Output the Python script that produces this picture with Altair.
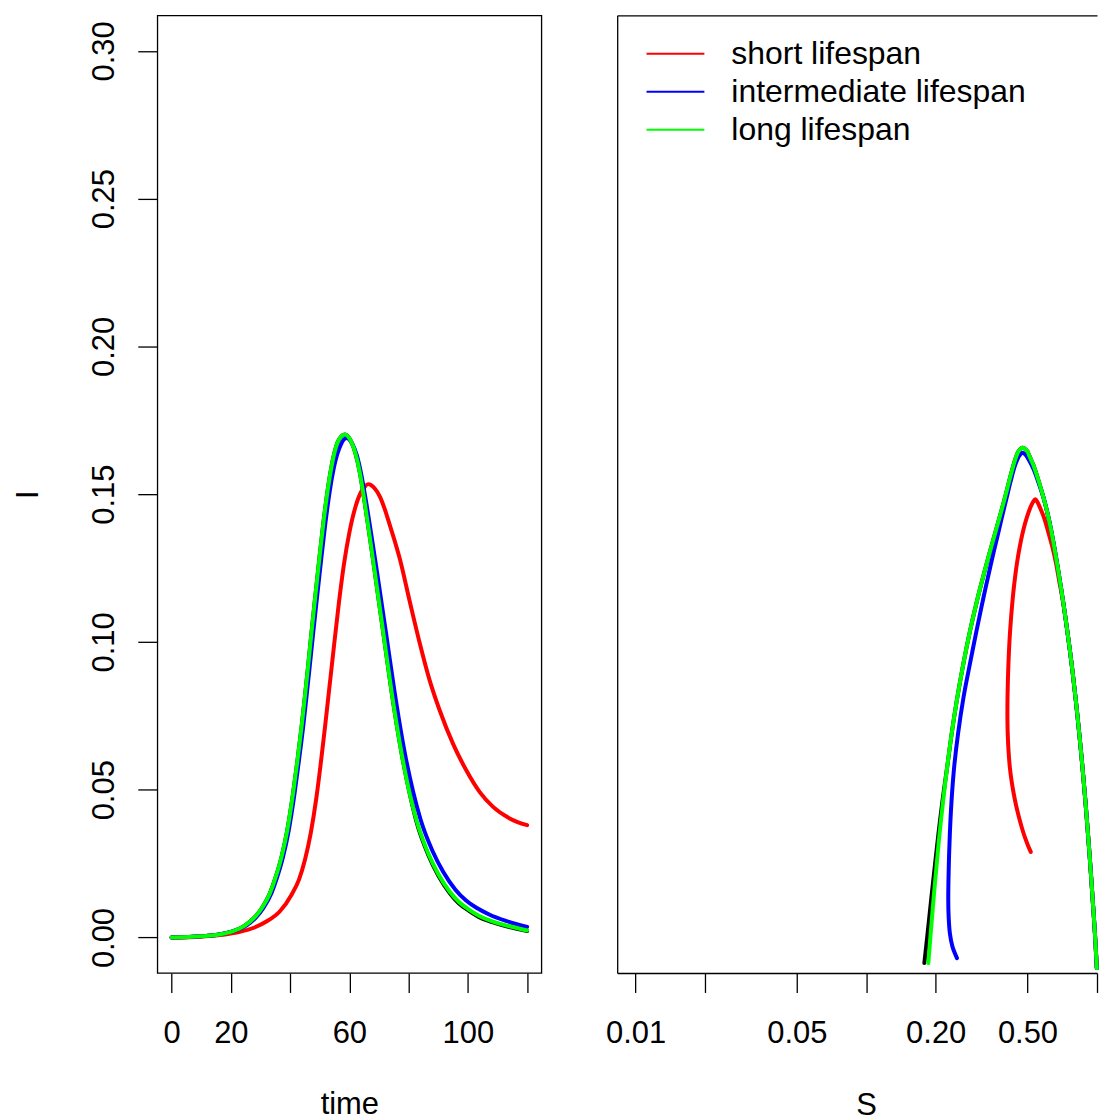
import altair as alt
import pandas as pd

# ---------------- left panel: I over time ----------------
short_time = [0, 10, 18, 23, 28, 32, 36.5, 40.5, 43, 45, 47, 48.9, 50.3, 51.7, 53, 54.3, 56.5, 58.1,
              60, 62, 64, 65.2, 66.3, 67.4, 68.5, 70.3, 72, 73.6, 75.3, 77, 80.4, 83.8, 87.1, 90.5,
              95, 99.5, 104, 108.5, 114.1, 120]
short_I = [0, 0.0003, 0.0010, 0.0019, 0.0034, 0.0054, 0.0088, 0.0145, 0.0196, 0.0262, 0.0355, 0.0475,
           0.0585, 0.0705, 0.0822, 0.0940, 0.1135, 0.1258, 0.1370, 0.1455, 0.1508, 0.1525, 0.1534,
           0.1530, 0.1520, 0.1492, 0.1448, 0.1397, 0.1342, 0.1282, 0.1136, 0.0994, 0.0870, 0.0768,
           0.0655, 0.0565, 0.0492, 0.0442, 0.0403, 0.0380]

mid_time = [0, 10, 15, 20, 25.2, 28.5, 31, 33.7, 35.5, 37.6, 39.5, 41.5, 43, 44.4, 45.5, 46.6, 47.7,
            48.8, 50.3, 51.7, 53.5, 55, 57, 59, 61, 62.5, 64, 65.8, 67.6, 69.4, 72.3, 75.2, 78.7,
            81.6, 84, 88.1, 91.7, 95.8, 99.2, 103.2, 107.2, 112.6, 120]
mid_I = [0, 0.0004, 0.00085, 0.0019, 0.0040, 0.0068, 0.0100, 0.015, 0.020, 0.0272, 0.036, 0.0487,
         0.060, 0.0712, 0.0812, 0.0915, 0.1022, 0.1125, 0.1262, 0.1385, 0.1518, 0.1600, 0.1665,
         0.1690, 0.1670, 0.1632, 0.1568, 0.1465, 0.1350, 0.1232, 0.1035, 0.0835, 0.0625, 0.0490,
         0.0400, 0.0292, 0.0222, 0.0162, 0.0127, 0.0099, 0.0078, 0.0057, 0.0036]

long_time = [0, 10, 15, 20, 24.7, 28, 30.5, 33.2, 35, 37.1, 39, 41, 42.5, 43.9, 45, 46.1, 47.2, 48.3,
             49.8, 51.2, 53, 54.5, 56.5, 58.5, 60.5, 62, 63.5, 65.2, 66.9, 68.6, 71.4, 74.2, 77.6,
             80.4, 82.7, 86.6, 90, 93.9, 97, 100.6, 104, 108.5, 114, 120]
long_I = [0, 0.0004, 0.00085, 0.0019, 0.0040, 0.0068, 0.0100, 0.015, 0.020, 0.0272, 0.036, 0.0487,
          0.060, 0.0715, 0.0815, 0.0920, 0.1030, 0.1135, 0.1275, 0.1400, 0.1535, 0.1620, 0.1685,
          0.1702, 0.1680, 0.1640, 0.1575, 0.1470, 0.1355, 0.1235, 0.1035, 0.0835, 0.0625, 0.0485,
          0.0395, 0.0285, 0.0215, 0.0155, 0.0120, 0.0093, 0.0072, 0.0054, 0.0038, 0.0024]

base_time = [0, 10, 15, 20, 24.7, 28, 30.5, 33.2, 35, 37.1, 39, 41, 42.5, 43.9, 45, 46.1, 47.2, 48.3,
             49.8, 51.2, 53, 54.5, 56.5, 58.5, 60.5, 62, 63.5, 65.2, 66.9, 68.6, 71.4, 74.2, 77.6,
             80.4, 82.7, 86.6, 90, 93.9, 97, 100.6, 104, 108.5, 114, 120]
base_I = [0, 0.0004, 0.00085, 0.0019, 0.0040, 0.0068, 0.0100, 0.015, 0.020, 0.0272, 0.036, 0.0487,
          0.060, 0.0715, 0.0815, 0.0920, 0.1030, 0.1135, 0.1275, 0.1400, 0.1535, 0.1620, 0.1685,
          0.1702, 0.1680, 0.1640, 0.1575, 0.1470, 0.1355, 0.1235, 0.1035, 0.0835, 0.0625, 0.0485,
          0.0390, 0.0280, 0.0210, 0.0150, 0.0115, 0.0089, 0.0068, 0.0051, 0.0035, 0.0022]

# ---------------- right panel: I against S ----------------
short_S = [0.999, 0.98028, 0.95903, 0.93741, 0.91437, 0.89101, 0.86564, 0.83849, 0.80741, 0.77670,
           0.74414, 0.70779, 0.68627, 0.66606, 0.64198, 0.61384, 0.58871, 0.56684, 0.55289, 0.54091,
           0.52763, 0.51414, 0.49654, 0.47857, 0.46217, 0.44946, 0.43972, 0.43190, 0.42044, 0.41339,
           0.40970, 0.40929, 0.41052, 0.41380, 0.41919, 0.42635, 0.43579, 0.44634, 0.45896, 0.47241,
           0.48670, 0.50147, 0.51671]
short_I_phase = [0.0, 0.01142, 0.02219, 0.03312, 0.04405, 0.05481, 0.06574, 0.07667, 0.08858,
                 0.09951, 0.11028, 0.12121, 0.12659, 0.13214, 0.13752, 0.14290, 0.14747, 0.15057,
                 0.15236, 0.15331, 0.15236, 0.15057, 0.14731, 0.14297, 0.13752, 0.13210, 0.12659,
                 0.12121, 0.11034, 0.09948, 0.08858, 0.08157, 0.07667, 0.07113, 0.06574, 0.06134,
                 0.05706, 0.05318, 0.04943, 0.04600, 0.04290, 0.04029, 0.03801]

mid_S = [0.999, 0.98028, 0.95903, 0.93741, 0.91437, 0.89101, 0.86564, 0.83849, 0.80741, 0.77670,
         0.74414, 0.70941, 0.67266, 0.63438, 0.61202, 0.58693, 0.55566, 0.53132, 0.50551, 0.49309,
         0.4752, 0.46217, 0.44323, 0.42254, 0.40603, 0.39017, 0.37494, 0.34690, 0.32226, 0.30056,
         0.28143, 0.26405, 0.24998, 0.24046, 0.23431, 0.23038, 0.22787, 0.22674, 0.22764, 0.23038,
         0.23642, 0.24728]
mid_I_phase = [0.0, 0.01142, 0.02219, 0.03312, 0.04405, 0.05481, 0.06574, 0.07667, 0.08858, 0.09951,
               0.11028, 0.12121, 0.13210, 0.14290, 0.14845, 0.15383, 0.15922, 0.16313, 0.16639,
               0.16770, 0.16852, 0.16770, 0.16476, 0.15922, 0.15383, 0.14845, 0.14290, 0.13210,
               0.12121, 0.11028, 0.09951, 0.08858, 0.07667, 0.06574, 0.05481, 0.04405, 0.03312,
               0.02219, 0.01664, 0.01142, 0.00701, 0.00326]

long_S = [0.999, 0.98028, 0.95903, 0.93741, 0.91437, 0.89101, 0.86564, 0.83849, 0.80741, 0.77670,
          0.74414, 0.70941, 0.67266, 0.63438, 0.61202, 0.58693, 0.55955, 0.52868, 0.50808, 0.49955,
          0.47523, 0.45712, 0.44900, 0.43579, 0.41628, 0.39922, 0.38173, 0.36391, 0.33138, 0.30418,
          0.28173, 0.26355, 0.24678, 0.23455, 0.22382, 0.21595, 0.20793, 0.20120, 0.19587, 0.19029,
          0.18579]
long_I_phase = [0.0, 0.01142, 0.02219, 0.03312, 0.04405, 0.05481, 0.06574, 0.07667, 0.08858,
                0.09951, 0.11028, 0.12121, 0.13210, 0.14290, 0.14845, 0.15383, 0.15922, 0.16476,
                0.16770, 0.16900, 0.17015, 0.16900, 0.16770, 0.16476, 0.15922, 0.15383, 0.14845,
                0.14290, 0.13181, 0.12104, 0.11028, 0.09951, 0.08744, 0.07667, 0.06525, 0.05546,
                0.04405, 0.03263, 0.02284, 0.01142, 0.00163]

base_S = [0.999, 0.98028, 0.95903, 0.93741, 0.91437, 0.89101, 0.86564, 0.83849, 0.80741, 0.77670,
          0.74414, 0.70941, 0.67266, 0.63438, 0.61202, 0.58693, 0.55955, 0.52868, 0.50808, 0.49955,
          0.47523, 0.45712, 0.44900, 0.43579, 0.41628, 0.39922, 0.38173, 0.36391, 0.33138, 0.30418,
          0.28173, 0.26355, 0.24678, 0.23455, 0.22382, 0.21466, 0.20566, 0.19782, 0.19143, 0.18450,
          0.17853]
base_I_phase = [0.0, 0.01142, 0.02219, 0.03312, 0.04405, 0.05481, 0.06574, 0.07667, 0.08858,
                0.09951, 0.11028, 0.12121, 0.13210, 0.14290, 0.14845, 0.15383, 0.15922, 0.16476,
                0.16770, 0.16900, 0.17015, 0.16900, 0.16770, 0.16476, 0.15922, 0.15383, 0.14845,
                0.14290, 0.13181, 0.12104, 0.11028, 0.09951, 0.08744, 0.07667, 0.06525, 0.05546,
                0.04405, 0.03263, 0.02284, 0.01142, 0.00163]

series_names = ["short lifespan", "intermediate lifespan", "long lifespan"]
series_colors = ["#FF0000", "#0000FF", "#00FF00"]

time_ticks = [0, 20, 40, 60, 80, 100, 120]
time_labelled = [0, 20, 60, 100]
I_ticks = [0.0, 0.05, 0.10, 0.15, 0.20, 0.25, 0.30]
S_ticks = [0.01, 0.02, 0.05, 0.1, 0.2, 0.5, 1]
S_labelled = [0.01, 0.05, 0.2, 0.5]

FONT = "Liberation Sans"
FS = 31
LEFT_W, RIGHT_W, PLOT_H = 385, 481, 960
PX_PER_DECADE = 231.2


def frame(xs, ys, name, xname):
    return pd.DataFrame({xname: xs, "I": ys, "series": name, "step": list(range(len(xs)))})


color_scale = alt.Scale(domain=series_names, range=series_colors)

text_style = dict(
    labelFont=FONT, labelFontSize=FS, labelColor="black",
    titleFont=FONT, titleFontSize=FS, titleFontWeight="normal", titleColor="black",
    tickColor="black", tickWidth=1.3, grid=False, labelOverlap=False, labelFlush=False,
)

time_axis = alt.Axis(
    values=time_ticks,
    labelExpr="indexof(" + str(time_labelled) + ", datum.value) >= 0 ? datum.label : ''",
    title="time", tickSize=19.5, labelPadding=26, titleY=140.5, titleBaseline="alphabetic",
    domain=False, **text_style,
)
I_axis = alt.Axis(
    values=I_ticks, format=".2f", title="I", tickSize=19.6, labelPadding=24.8,
    labelAngle=270, labelAlign="center", labelBaseline="alphabetic",
    titleAngle=270, titleBaseline="alphabetic", titleAlign="center", titleX=-120.5, titleY=480,
    domain=False, **text_style,
)
S_axis_bottom = alt.Axis(
    values=S_ticks,
    labelExpr="indexof(" + str(S_labelled) + ", datum.value) >= 0 ? format(datum.value, '.2f') : ''",
    title="S", tickSize=19.5, labelPadding=26, titleY=141.5, titleBaseline="alphabetic",
    titleX=249.6, domain=True, domainColor="black", domainWidth=1.3, **text_style,
)
S_axis_top = alt.Axis(orient="top", labels=False, ticks=False, title="", grid=False,
                      domain=True, domainColor="black", domainWidth=1.3)
I_axis_frame = alt.Axis(labels=False, ticks=False, title="", grid=False,
                        domain=True, domainColor="black", domainWidth=1.3)

time_scale = alt.Scale(domain=[-4.8, 124.8], nice=False, zero=False)
I_left_scale = alt.Scale(domain=[-0.012, 0.312], nice=False, zero=False)
S_scale = alt.Scale(type="log", nice=False,
                    domain=[10 ** -2.08, 10 ** (-2.08 + RIGHT_W / PX_PER_DECADE)])
I_right_scale = alt.Scale(domain=[-0.0016, 0.3116], nice=False, zero=False)

line_style = dict(strokeWidth=4, strokeCap="round", strokeJoin="round")

legend = alt.Legend(
    title=None, orient="none", legendX=28.4, legendY=23.4, direction="vertical",
    symbolType="stroke", symbolSize=3364, symbolStrokeWidth=2, symbolOffset=0,
    labelFont=FONT, labelFontSize=32, labelColor="black", labelOffset=26, labelLimit=0,
    clipHeight=30, rowPadding=6.1, padding=0,
)

# ---------- left panel ----------
x_time = alt.X("time:Q", scale=time_scale, axis=time_axis)
y_left = alt.Y("I:Q", scale=I_left_scale, axis=I_axis)

left_layers = [
    alt.Chart(frame(base_time, base_I, "baseline", "time")).mark_line(
        color="black", interpolate="monotone", **line_style
    ).encode(x=x_time, y=y_left, order="step:Q")
]
for t, i, name in [(short_time, short_I, series_names[0]),
                   (mid_time, mid_I, series_names[1]),
                   (long_time, long_I, series_names[2])]:
    left_layers.append(
        alt.Chart(frame(t, i, name, "time")).mark_line(interpolate="monotone", **line_style).encode(
            x=x_time, y=y_left, order="step:Q",
            color=alt.Color("series:N", scale=color_scale, legend=None),
        )
    )
left = alt.layer(*left_layers).properties(
    width=LEFT_W, height=PLOT_H,
    view=alt.ViewBackground(stroke="black", strokeWidth=1.3),
)

# ---------- right panel ----------
right_layers = [
    alt.Chart(frame(base_S, base_I_phase, "baseline", "S")).mark_line(
        color="black", interpolate="catmull-rom", **line_style
    ).encode(
        x=alt.X("S:Q", scale=S_scale, axis=S_axis_bottom),
        y=alt.Y("I:Q", scale=I_right_scale, axis=I_axis_frame),
        order="step:Q",
    )
]
for k, (s, i, name) in enumerate([(short_S, short_I_phase, series_names[0]),
                                  (mid_S, mid_I_phase, series_names[1]),
                                  (long_S, long_I_phase, series_names[2])]):
    x_enc = alt.X("S:Q", scale=S_scale, axis=S_axis_top if k == 0 else None)
    right_layers.append(
        alt.Chart(frame(s, i, name, "S")).mark_line(interpolate="catmull-rom", **line_style).encode(
            x=x_enc,
            y=alt.Y("I:Q", scale=I_right_scale, axis=None),
            order="step:Q",
            color=alt.Color("series:N", scale=color_scale, legend=legend),
        )
    )
right = (
    alt.layer(*right_layers)
    .resolve_axis(x="independent", y="independent")
    .properties(width=RIGHT_W, height=PLOT_H,
                view=alt.ViewBackground(stroke="transparent"))
)

chart = (
    alt.hconcat(left, right, spacing=76, bounds="flush")
    .resolve_scale(color="independent")
    .resolve_legend(color="independent")
    .properties(padding={"left": 2.7, "top": 5, "right": 0, "bottom": 0})
)

chart.save("out.html", embed_options={"renderer": "svg", "actions": False})
